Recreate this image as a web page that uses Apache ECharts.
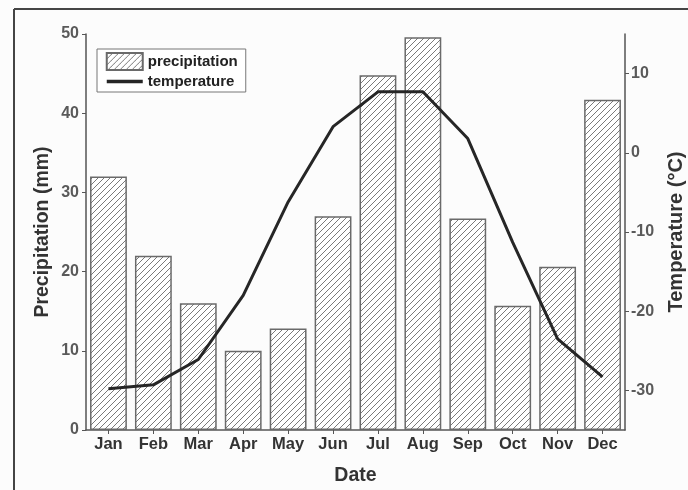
<!DOCTYPE html>
<html>
<head>
<meta charset="utf-8">
<script src="https://cdn.jsdelivr.net/npm/echarts@6/dist/echarts.min.js"></script>
<style>
  html, body { margin: 0; padding: 0; background: #ffffff; }
  #chart { width: 688px; height: 490px; }
</style>
</head>
<body>
<div id="chart"></div>
<script>
// Monthly climate data
const months = ['Jan', 'Feb', 'Mar', 'Apr', 'May', 'Jun', 'Jul', 'Aug', 'Sep', 'Oct', 'Nov', 'Dec'];
const precipitation = [32, 22, 16, 10, 12.8, 27, 44.8, 49.6, 26.7, 15.7, 20.6, 41.7];
const temperature = [-29.8, -29.3, -26.1, -18, -6.2, 3.3, 7.7, 7.7, 1.8, -11.3, -23.5, -28.3];
const tempTicks = [-30, -20, -10, 0, 10];

// Diagonal hatch tile used as the bar fill
function hatchPattern() {
  const s = 6;
  const c = document.createElement('canvas');
  c.width = s; c.height = s;
  const g = c.getContext('2d');
  g.fillStyle = '#ffffff';
  g.fillRect(0, 0, s, s);
  g.strokeStyle = '#7a7a7a';
  g.lineWidth = 1;
  g.beginPath();
  g.moveTo(-1, s + 1); g.lineTo(s + 1, -1);
  g.moveTo(-1, 1); g.lineTo(1, -1);
  g.moveTo(s - 1, s + 1); g.lineTo(s + 1, s - 1);
  g.stroke();
  return c;
}

const font = 'Liberation Sans, Arial, sans-serif';
const axisNameStyle = { color: '#333', fontFamily: font, fontWeight: 'bold', fontSize: 19.5 };
const axisLine = { show: true, lineStyle: { color: '#555', width: 1.5 } };
const valueLabel = { color: '#5a5a5a', fontFamily: font, fontWeight: 'bold', fontSize: 16 };

const chart = echarts.init(document.getElementById('chart'), null, { renderer: 'canvas' });
chart.setOption({
  backgroundColor: '#fcfcfc',
  animation: false,
  grid: { left: 86, right: 63, top: 34, bottom: 60, outerBoundsMode: 'none', containLabel: false },
  graphic: [
    { type: 'line', shape: { x1: 14, y1: 9, x2: 688, y2: 9 }, style: { stroke: '#444', lineWidth: 2 } },
    { type: 'line', shape: { x1: 14, y1: 9, x2: 14, y2: 490 }, style: { stroke: '#444', lineWidth: 2 } }
  ],
  legend: {
    left: 97, top: 49,
    orient: 'vertical',
    itemWidth: 36, itemHeight: 17, itemGap: 3,
    padding: [3, 8, 3, 8],
    borderColor: '#777', borderWidth: 1,
    backgroundColor: '#ffffff',
    textStyle: { color: '#222', fontFamily: font, fontWeight: 'bold', fontSize: 15 },
    data: [
      { name: 'precipitation', icon: 'rect' },
      { name: 'temperature', itemStyle: { opacity: 0 }, lineStyle: { width: 3.5, color: '#262626' } }
    ]
  },
  xAxis: {
    type: 'category',
    data: months,
    name: 'Date',
    nameLocation: 'middle',
    nameGap: 36,
    nameTextStyle: axisNameStyle,
    axisLine: axisLine,
    axisTick: { show: true, alignWithLabel: true, length: 4, lineStyle: { color: '#555' } },
    axisLabel: { color: '#333', fontFamily: font, fontWeight: 'bold', fontSize: 16.5, margin: 6 },
    splitLine: { show: false }
  },
  yAxis: [
    {
      type: 'value',
      min: 0, max: 50, interval: 10,
      name: 'Precipitation (mm)',
      nameLocation: 'middle',
      nameGap: 33,
      nameMoveOverlap: false,
      nameTextStyle: axisNameStyle,
      axisLine: axisLine,
      axisTick: { show: true, length: 4, lineStyle: { color: '#555' } },
      axisLabel: Object.assign({ margin: 7 }, valueLabel),
      splitLine: { show: false }
    },
    {
      type: 'value',
      min: -35, max: 15,
      name: 'Temperature (°C)',
      nameLocation: 'middle',
      nameGap: 41,
      nameMoveOverlap: false,
      nameRotate: 90,
      nameTextStyle: Object.assign({}, axisNameStyle, { fontSize: 20 }),
      axisLine: axisLine,
      axisTick: { show: true, length: 4, customValues: tempTicks, lineStyle: { color: '#555' } },
      axisLabel: Object.assign({ margin: 6, customValues: tempTicks }, valueLabel),
      splitLine: { show: false }
    }
  ],
  series: [
    {
      name: 'precipitation',
      type: 'bar',
      data: precipitation,
      barWidth: '82%',
      itemStyle: {
        color: { image: hatchPattern(), repeat: 'repeat' },
        borderColor: '#6a6a6a',
        borderWidth: 1.5
      }
    },
    {
      name: 'temperature',
      type: 'line',
      yAxisIndex: 1,
      data: temperature,
      symbol: 'none',
      lineStyle: { color: '#262626', width: 3 },
      itemStyle: { color: '#262626' }
    }
  ]
});
</script>
</body>
</html>
